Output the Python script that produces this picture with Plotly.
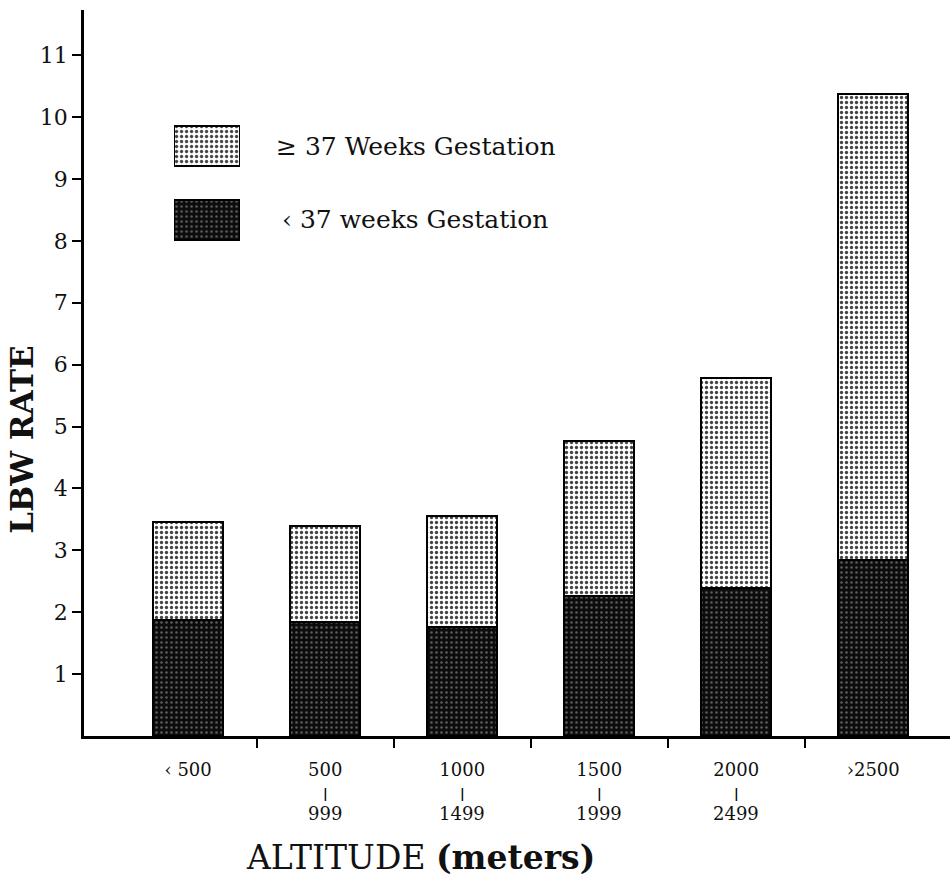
import plotly.graph_objects as go

# Altitude bands (metres): lower bound line and upper bound line of each label
band_low = ["‹ 500", "500", "1000", "1500", "2000", "›2500"]
band_high = ["", "999", "1499", "1999", "2499", ""]
# Low-birth-weight rates split by gestation
preterm = [1.87, 1.85, 1.76, 2.26, 2.39, 2.84]    # < 37 weeks gestation
term = [1.58, 1.55, 1.80, 2.51, 3.40, 7.53]       # >= 37 weeks gestation
y_ticks = [1, 2, 3, 4, 5, 6, 7, 8, 9, 10, 11]

legend_names = ["≥ 37 Weeks Gestation", "‹ 37 weeks Gestation"]

SERIF = "DejaVu Serif"
x_idx = list(range(len(band_low)))
boundaries = [i + 0.5 for i in x_idx[:-1]]

light_pattern = dict(shape=".", fillmode="replace", bgcolor="#ffffff",
                     fgcolor="#444444", size=5, solidity=0.34)
dark_pattern = dict(shape=".", fillmode="replace", bgcolor="#0c0c0c",
                    fgcolor="#5c5c5c", size=5, solidity=0.2)
edge = dict(color="#000000", width=2.5)

fig = go.Figure()
fig.add_trace(go.Bar(x=x_idx, y=preterm, width=0.51, name=legend_names[1],
                     marker=dict(color="#101010", pattern=dark_pattern, line=edge)))
fig.add_trace(go.Bar(x=x_idx, y=term, width=0.51, name=legend_names[0],
                     marker=dict(color="#ffffff", pattern=light_pattern, line=edge)))

# Legend swatches drawn as bars on a small overlay axis
fig.add_trace(go.Bar(x=[1], y=[legend_names[0]], orientation="h", width=0.53,
                     xaxis="x2", yaxis="y2",
                     marker=dict(color="#ffffff", pattern=light_pattern, line=edge)))
fig.add_trace(go.Bar(x=[1], y=[legend_names[1]], orientation="h", width=0.53,
                     xaxis="x2", yaxis="y2",
                     marker=dict(color="#101010", pattern=dark_pattern, line=edge)))

annotations = []
for name, shift in zip(legend_names, [34, 40]):
    annotations.append(dict(x=1.0, y=name, xref="x2", yref="y2", text=name,
                            showarrow=False, xanchor="left", xshift=shift,
                            font=dict(family=SERIF, size=25, color="#111")))

# Second and third lines of the altitude band labels
for i, high in zip(x_idx, band_high):
    if high:
        annotations.append(dict(x=i, y=0, xref="x", yref="paper", text="<b>|</b>",
                                showarrow=False, yanchor="middle", yshift=-57,
                                font=dict(family=SERIF, size=13, color="#000")))
        annotations.append(dict(x=i, y=0, xref="x", yref="paper", text=high,
                                showarrow=False, yanchor="middle", yshift=-77,
                                font=dict(family=SERIF, size=18, color="#111")))

annotations.append(dict(text="<b>LBW RATE</b>", textangle=-90, xref="paper", yref="paper",
                        x=-0.0716, y=0.408, xanchor="center", yanchor="middle",
                        showarrow=False, font=dict(family=SERIF, size=31, color="#111")))
annotations.append(dict(text="ALTITUDE <b>(meters)</b>", xref="paper", yref="paper",
                        x=0.388, y=-0.168, xanchor="center", yanchor="middle",
                        showarrow=False, font=dict(family=SERIF, size=33, color="#111")))

fig.update_layout(
    width=950, height=879,
    margin=dict(l=84, r=0, t=10, b=143),
    barmode="stack", bargap=0.0,
    showlegend=False,
    plot_bgcolor="#ffffff", paper_bgcolor="#ffffff",
    annotations=annotations,
    xaxis=dict(range=[-0.76, 5.56], tickvals=x_idx, ticktext=band_low,
               ticks="", ticklabelstandoff=16, showline=True, linecolor="#000",
               linewidth=2.5, showgrid=False, zeroline=False,
               tickfont=dict(family=SERIF, size=18, color="#111"),
               minor=dict(tickvals=boundaries, ticks="outside", ticklen=9,
                          tickwidth=2, tickcolor="#000", showgrid=False)),
    yaxis=dict(range=[0, 11.73], tickvals=y_ticks, ticks="outside", ticklen=9,
               tickwidth=2, tickcolor="#000", showline=True, linecolor="#000",
               linewidth=2.5, showgrid=False, zeroline=False,
               tickfont=dict(family=SERIF, size=22, color="#111")),
    xaxis2=dict(domain=[0.104, 0.180], range=[0, 1], anchor="y2",
                visible=False, fixedrange=True),
    yaxis2=dict(domain=[0.6598, 0.8636], anchor="x2", visible=False,
                autorange="reversed", fixedrange=True),
)

fig.write_html("out.html")
